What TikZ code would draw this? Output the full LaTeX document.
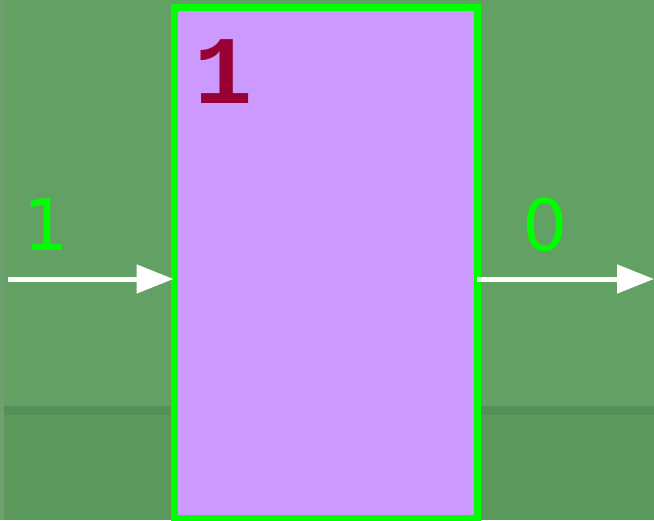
\documentclass[tikz,border=0pt]{standalone}
\usepackage{fontspec}
\newfontfamily\monobold{Liberation Mono}
\newfontfamily\labelsans{DejaVu Sans}
\usetikzlibrary{arrows.meta}
\definecolor{bgtop}{HTML}{62A063}
\definecolor{bgbot}{HTML}{5B995D}
\definecolor{bgband}{HTML}{558F58}
\definecolor{bgedge}{HTML}{6EA06F}
\definecolor{boxfill}{HTML}{CC99FF}
\definecolor{boxline}{HTML}{00FF00}
\definecolor{titlered}{HTML}{990033}
\tikzset{
  blockbox/.style={draw=boxline, fill=boxfill, line width=7pt, minimum width=303pt, minimum height=511pt, inner sep=0pt},
  wirearrow/.style={draw=white, line width=5pt, -{Triangle[length=37pt,width=28pt]}},
  wirelabel/.style={text=boxline, font=\labelsans\fontsize{71}{71}\selectfont, inner sep=0pt},
  titlelabel/.style={text=titlered, font=\monobold\bfseries\fontsize{97}{97}\selectfont, inner sep=0pt}
}
\begin{document}
\begin{tikzpicture}[x=1pt,y=-1pt]
\useasboundingbox (0,0) rectangle (654,520);
\fill[bgtop] (0,0) rectangle (654,520);
\fill[bgbot] (0,410) rectangle (654,520);
\fill[bgband] (4,406) rectangle (654,415);
\fill[bgedge] (0,0) rectangle (4,520);
\node[blockbox] (box) at (325.5,262.5) {};
\node[titlelabel] (title) at (224,72) {1};
\coordinate (inwire) at (8,279);
\coordinate (outwire) at (654,279);
\draw[wirearrow] (inwire) -- ([xshift=3pt]inwire -| box.west);
\draw[wirearrow] ([xshift=-3.5pt]outwire -| box.east) -- (outwire);
\node[wirelabel] (inlabel) at (46,225) {1};
\node[wirelabel] (outlabel) at (545,225) {0};
\end{tikzpicture}
\end{document}
